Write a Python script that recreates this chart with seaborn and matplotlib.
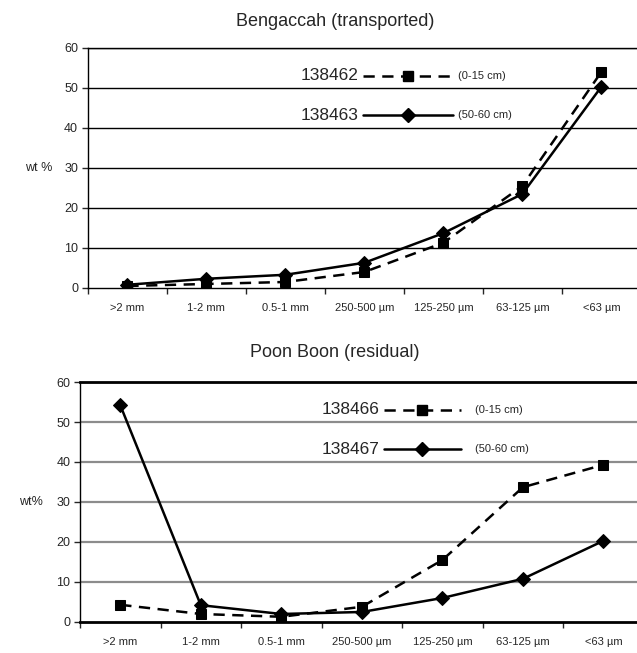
import matplotlib
matplotlib.use("Agg")
import matplotlib.pyplot as plt
import seaborn as sns
import pandas as pd
from matplotlib.lines import Line2D

sns.set_style("white")
plt.rcParams['font.family'] = ['Liberation Sans', 'DejaVu Sans']

sizes = [">2 mm", "1-2 mm", "0.5-1 mm", "250-500 µm", "125-250 µm", "63-125 µm", "<63 µm"]

beng_138462 = [0.5, 1.0, 1.5, 4.0, 11.3, 25.5, 54.0]
beng_138463 = [0.8, 2.3, 3.3, 6.3, 13.7, 23.5, 50.3]

poon_138466 = [4.3, 2.0, 1.3, 3.8, 15.5, 33.7, 39.3]
poon_138467 = [54.2, 4.2, 2.0, 2.5, 6.0, 10.8, 20.3]

depths = ["(0-15 cm)", "(50-60 cm)"]

fig = plt.figure(figsize=(6.37, 6.53), dpi=100)
ax1 = fig.add_axes([0.138, 0.559, 0.868, 0.3675])
ax2 = fig.add_axes([0.1256, 0.0475, 0.885, 0.3675])


def draw(ax, s1, v1, s2, v2, title, ylab, grid_col, frame_lw,
         leg_x, leg_w, num_x, dep_x, title_x, title_pad):
    pos = list(range(len(sizes)))
    df = pd.DataFrame({"pos": pos * 2, "wt": v1 + v2,
                       "sample": [s1] * len(pos) + [s2] * len(pos)})
    ax.set_axisbelow(True)
    for y in range(10, 61, 10):
        ax.axhline(y, color=grid_col, lw=1.0 if grid_col == "black" else 1.6, zorder=0)
    sns.lineplot(data=df[df["sample"] == s1], x="pos", y="wt", ax=ax, color="black",
                 lw=1.8, marker="s", markersize=7, markeredgecolor="black",
                 dashes=False, linestyle=(0, (4.5, 3)), legend=False, zorder=3)
    sns.lineplot(data=df[df["sample"] == s2], x="pos", y="wt", ax=ax, color="black",
                 lw=1.8, marker="D", markersize=7, markeredgecolor="black",
                 legend=False, zorder=3)
    ax.set_xlim(-0.5, len(sizes) - 0.5)
    ax.set_ylim(0, 60)
    ax.set_xticks(pos)
    ax.set_xticklabels(sizes, fontsize=8)
    ax.set_xticks([p - 0.5 for p in pos] + [len(pos) - 0.5], minor=True)
    ax.tick_params(axis="x", which="major", length=0, pad=11)
    ax.tick_params(axis="x", which="minor", length=4, width=1, direction="out", bottom=True)
    ax.set_yticks(range(0, 61, 10))
    ax.tick_params(axis="y", labelsize=9, length=4, width=1, direction="out", left=True, pad=3)
    ax.set_xlabel("")
    ax.set_ylabel(ylab, rotation=0, fontsize=9, labelpad=18, va="center")
    ax.set_title(title, fontsize=13, pad=title_pad, x=title_x)
    ax.spines["right"].set_visible(False)
    ax.spines["left"].set_linewidth(1.0)
    ax.spines["left"].set_color("black")
    ax.spines["bottom"].set_linewidth(frame_lw)
    ax.spines["bottom"].set_color("black")
    ax.spines["top"].set_linewidth(frame_lw)
    ax.spines["top"].set_color("black")

    # legend
    rows = [(s1, (0, (4.5, 3)), "s", depths[0], 0.885), (s2, "-", "D", depths[1], 0.72)]
    for name, ls, mk, dep, yy in rows:
        ax.text(num_x, yy, name, transform=ax.transAxes, fontsize=12.5,
                ha="right", va="center")
        ax.add_line(Line2D([leg_x, leg_x + leg_w], [yy, yy], transform=ax.transAxes,
                           color="black", lw=1.8, linestyle=ls))
        ax.add_line(Line2D([leg_x + leg_w / 2], [yy], transform=ax.transAxes,
                           color="black", marker=mk, markersize=7))
        ax.text(dep_x, yy, dep, transform=ax.transAxes, fontsize=8,
                ha="left", va="center")


draw(ax1, "138462", beng_138462, "138463", beng_138463,
     "Bengaccah (transported)", "wt %", "black", 1.0,
     0.497, 0.163, 0.49, 0.67, 0.447, 16)
draw(ax2, "138466", poon_138466, "138467", poon_138467,
     "Poon Boon (residual)", "wt%", "#8c8c8c", 2.0,
     0.54, 0.135, 0.532, 0.7, 0.4525, 18)

fig.savefig("out.png", dpi=100)
plt.close()
